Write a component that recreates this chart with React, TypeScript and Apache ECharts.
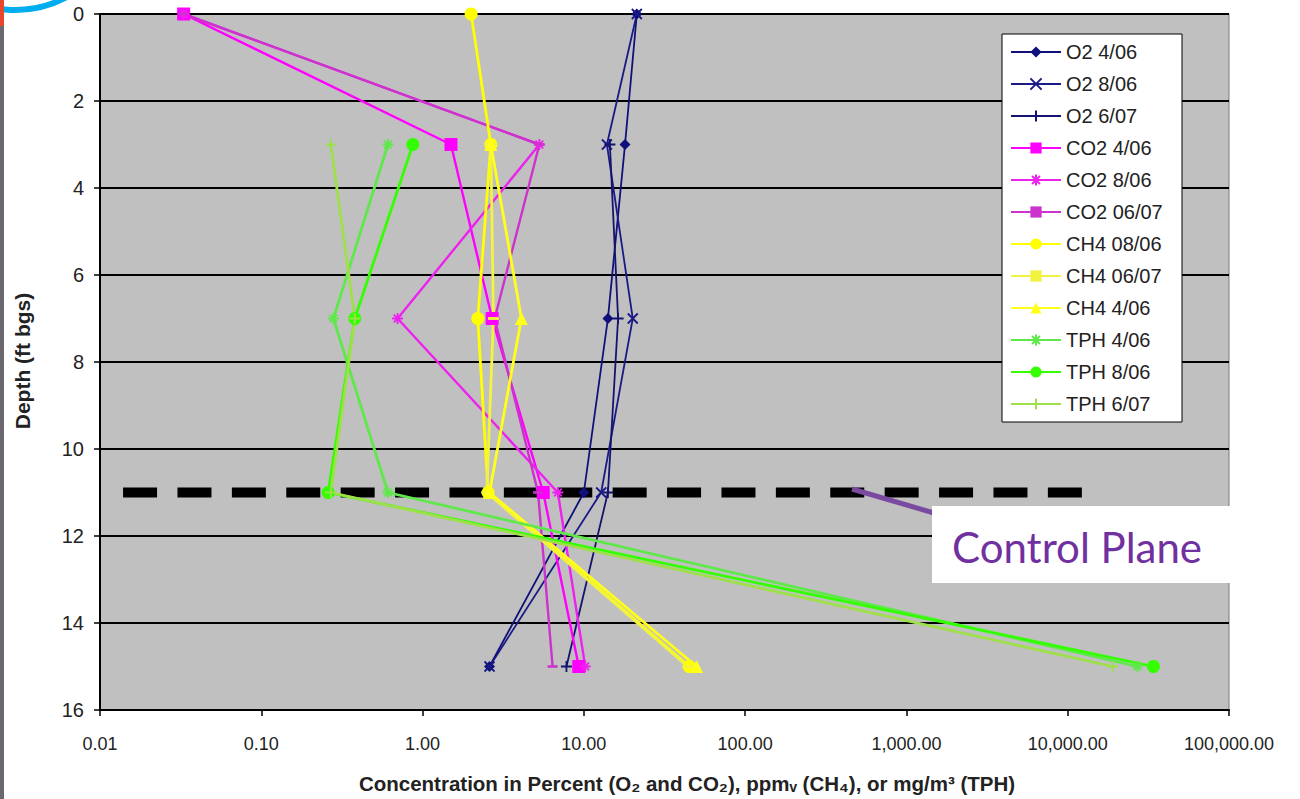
import React, { useEffect, useRef } from "react";
import * as echarts from "echarts";

// Depths (ft bgs) of the sampling points
const depths = [0, 3, 7, 11, 15];

// O2 (%)
const o2Apr06 = [21.3, 18.0, 14.1, 10.0, 2.6];
const o2Aug06 = [21.3, 13.9, 20.1, 12.8, 2.6];
const o2Jun07 = [null, 14.5, 16.3, 14.1, 7.8];
// CO2 (%)
const co2Apr06 = [0.033, 1.5, 2.7, 5.6, 9.3];
const co2Aug06 = [0.033, 5.3, 0.7, 6.9, 10.2];
const co2Jun07 = [0.033, 5.3, 2.8, 5.2, 6.4];
// CH4 (ppmv)
const ch4Aug06 = [2.0, 2.65, 2.2, 2.55, 45];
const ch4Jun07 = [null, 2.65, 2.75, 2.5, 44];
const ch4Apr06 = [null, 2.65, 4.1, 2.6, 50];
// TPH (mg/m3)
const tphApr06 = [null, 0.61, 0.28, 0.61, 27000];
const tphAug06 = [null, 0.87, 0.38, 0.26, 34000];
const tphJun07 = [null, 0.27, 0.38, 0.27, 19000];

// Control plane
const controlPlaneDepth = 11;
const controlPlaneX = [0.0139, 12560];

const xTicks = [0.01, 0.1, 1, 10, 100, 1000, 10000, 100000];

const FONT = "'Liberation Sans', Arial, sans-serif";

const X_SYM = "path://M0,0L10,10M10,0L0,10";
const PLUS_SYM = "path://M5,0L5,10M0,5L10,5";
const STAR_SYM = "path://M0,5L10,5M5,0L5,10M1.5,1.5L8.5,8.5M8.5,1.5L1.5,8.5";
const DASH_SYM = "path://M0,0L10,0L10,2.6L0,2.6Z";

type Def = {
  name: string;
  values: (number | null)[];
  color: string;
  symbol: string;
  size: number;
  width: number;
  stroke?: boolean;
  keep?: boolean;
};

const defs: Def[] = [
  { name: "O2 4/06", values: o2Apr06, color: "#10107a", symbol: "diamond", size: 11, width: 1.8 },
  { name: "O2 8/06", values: o2Aug06, color: "#1a1a86", symbol: X_SYM, size: 10, width: 1.8, stroke: true },
  { name: "O2 6/07", values: o2Jun07, color: "#141470", symbol: PLUS_SYM, size: 11, width: 1.8, stroke: true },
  { name: "CO2 4/06", values: co2Apr06, color: "#ff00ff", symbol: "rect", size: 13, width: 2.4 },
  { name: "CO2 8/06", values: co2Aug06, color: "#ee22ee", symbol: STAR_SYM, size: 11, width: 2.4, stroke: true },
  { name: "CO2 06/07", values: co2Jun07, color: "#cc33cc", symbol: DASH_SYM, size: 10, width: 2.4, keep: true },
  { name: "CH4 08/06", values: ch4Aug06, color: "#ffff00", symbol: "circle", size: 13, width: 2.8 },
  { name: "CH4 06/07", values: ch4Jun07, color: "#f2f240", symbol: DASH_SYM, size: 11, width: 2.8, keep: true },
  { name: "CH4 4/06", values: ch4Apr06, color: "#ffff1a", symbol: "triangle", size: 13, width: 2.8 },
  { name: "TPH 4/06", values: tphApr06, color: "#5fe84a", symbol: STAR_SYM, size: 11, width: 2.8, stroke: true },
  { name: "TPH 8/06", values: tphAug06, color: "#33ff00", symbol: "circle", size: 13, width: 2.8 },
  { name: "TPH 6/07", values: tphJun07, color: "#9ee04a", symbol: PLUS_SYM, size: 11, width: 2.8, stroke: true },
];

const fmt = (v: number) =>
  Number(v).toLocaleString("en-US", { minimumFractionDigits: 2, maximumFractionDigits: 2 });

export default function App() {
  const ref = useRef<HTMLDivElement>(null);
  useEffect(() => {
    if (!ref.current) return;
    const chart = echarts.init(ref.current, null, { renderer: "svg" });

    const dataSeries = defs.map((d) => ({
      name: d.name,
      type: "line",
      data: d.values
        .map((v, i) => (v == null ? null : [v, depths[i]]))
        .filter((p) => p !== null),
      symbol: d.symbol,
      symbolSize: d.size,
      symbolKeepAspect: !!d.keep,
      showSymbol: true,
      color: d.color,
      lineStyle: { color: d.color, width: d.width },
      itemStyle: {
        color: d.color,
        borderColor: d.color,
        borderWidth: d.stroke ? 1.8 : 0,
      },
      z: 3,
    }));

    const option: any = {
      animation: false,
      backgroundColor: "#ffffff",
      grid: {
        left: 100,
        right: 71,
        top: 14,
        bottom: 89,
        show: true,
        backgroundColor: "#c0c0c0",
        borderColor: "#7a7a7a",
        borderWidth: 1,
      },
      xAxis: {
        type: "log",
        logBase: 10,
        min: xTicks[0],
        max: xTicks[xTicks.length - 1],
        splitNumber: 7,
        axisLine: { show: true, onZero: false, lineStyle: { color: "#000", width: 2 } },
        axisTick: { show: true, length: 6, lineStyle: { color: "#000", width: 1.5 } },
        splitLine: { show: false },
        axisLabel: {
          margin: 25,
          fontSize: 18,
          fontFamily: FONT,
          color: "#222",
          formatter: (v: number) => fmt(v),
        },
      },
      yAxis: {
        type: "value",
        inverse: true,
        min: 0,
        max: 16,
        interval: 2,
        axisLine: { show: true, onZero: false, lineStyle: { color: "#000", width: 2 } },
        axisTick: { show: true, length: 6, lineStyle: { color: "#000", width: 1.5 } },
        splitLine: { show: true, lineStyle: { color: "#000", width: 2 } },
        axisLabel: { margin: 16, fontSize: 20, fontFamily: FONT, color: "#222" },
      },
      legend: {
        orient: "vertical",
        left: 1002,
        top: 34,
        padding: [8, 8, 8, 8],
        itemWidth: 50,
        itemHeight: 14,
        itemGap: 12,
        backgroundColor: "#ffffff",
        borderColor: "#000",
        borderWidth: 1,
        data: defs.map((d) => d.name),
        textStyle: {
          fontSize: 20,
          lineHeight: 20,
          width: 108,
          fontFamily: FONT,
          color: "#222",
        },
      },
      series: [
        {
          name: "Control Plane",
          type: "line",
          data: controlPlaneX.map((x) => [x, controlPlaneDepth]),
          symbol: "none",
          lineStyle: { color: "#000", width: 10, type: [34, 20.4] },
          z: 2,
          silent: true,
        },
        ...dataSeries,
      ],
      graphic: [
        { type: "rect", shape: { x: 0, y: 0, width: 4, height: 799 }, style: { fill: "#6a676e" }, z: 100 },
        { type: "rect", shape: { x: 0, y: 0, width: 4, height: 26 }, style: { fill: "#e8472e" }, z: 101 },
        {
          type: "circle",
          shape: { cx: 15, cy: -100, r: 110 },
          style: { fill: "none", stroke: "#00aeef", lineWidth: 6 },
          z: 100,
        },
        {
          type: "line",
          shape: { x1: 852, y1: 489, x2: 934, y2: 513 },
          style: { stroke: "#7a4aa0", lineWidth: 5 },
          z: 100,
        },
        {
          type: "rect",
          shape: { x: 932, y: 506, width: 298, height: 77 },
          style: { fill: "#ffffff" },
          z: 101,
        },
        {
          type: "text",
          x: 952,
          y: 547,
          style: {
            text: "Control Plane",
            fill: "#7030a0",
            font: "42px Lato, 'Noto Sans', sans-serif",
            textVerticalAlign: "middle",
          },
          z: 102,
        },
        {
          type: "text",
          x: 22,
          y: 361,
          rotation: Math.PI / 2,
          style: {
            text: "Depth (ft bgs)",
            fill: "#222",
            font: "bold 21px 'Liberation Sans', Arial, sans-serif",
            textAlign: "center",
            textVerticalAlign: "middle",
          },
          z: 100,
        },
        {
          type: "text",
          x: 687,
          y: 783,
          style: {
            text: "Concentration in Percent (O\u2082 and CO\u2082), ppm\u1d65 (CH\u2084), or mg/m\u00b3 (TPH)",
            fill: "#222",
            font: "bold 20.5px 'Liberation Sans', Arial, sans-serif",
            textAlign: "center",
            textVerticalAlign: "middle",
          },
          z: 100,
        },
      ],
    };

    chart.setOption(option);
    return () => chart.dispose();
  }, []);

  return (
    <div
      ref={ref}
      style={{ position: "fixed", left: 0, top: 0, width: 1300, height: 799 }}
    />
  );
}
